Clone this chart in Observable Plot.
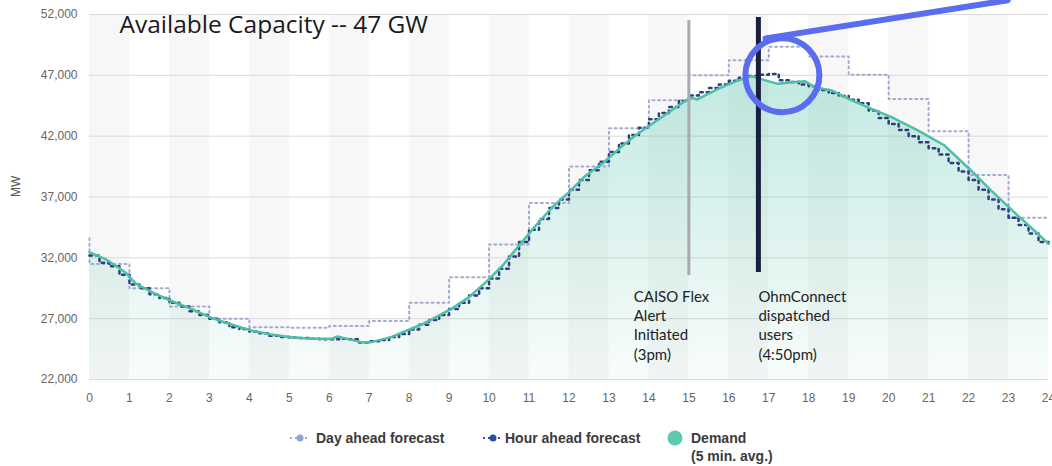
<!DOCTYPE html>
<html>
<head>
<meta charset="utf-8">
<script src="https://cdn.jsdelivr.net/npm/d3@7"></script>
<script src="https://cdn.jsdelivr.net/npm/@observablehq/plot@0.6"></script>
<style>
  body { margin: 0; background: #fff; }
  #wrap { position: relative; width: 1052px; height: 466px; overflow: hidden; }
  #chart svg { display: block; }
  .leg { position: absolute; font-family: Arial, "Liberation Sans", sans-serif; font-weight: bold; font-size: 14px; color: #3a3a3a; line-height: 18px; }
  .mk { position: absolute; }
</style>
</head>
<body>
<div id="wrap">
  <div id="chart"></div>
  <svg class="mk" style="left:289px;top:431px" width="22" height="14">
    <line x1="1" y1="7" x2="21" y2="7" stroke="#9ba9d6" stroke-width="2" stroke-dasharray="2 3"/>
    <circle cx="11" cy="7" r="3.5" fill="#8ea3d6"/>
  </svg>
  <div class="leg" style="left:316px;top:429px">Day ahead forecast</div>
  <svg class="mk" style="left:482px;top:431px" width="22" height="14">
    <line x1="1" y1="7" x2="21" y2="7" stroke="#2c4f9e" stroke-width="2" stroke-dasharray="2 3"/>
    <circle cx="11" cy="7" r="3.5" fill="#2c4f9e"/>
  </svg>
  <div class="leg" style="left:505px;top:429px">Hour ahead forecast</div>
  <svg class="mk" style="left:667px;top:430px" width="16" height="16">
    <circle cx="8" cy="8" r="7.5" fill="#5cc9b0"/>
  </svg>
  <div class="leg" style="left:691px;top:429px">Demand<br>(5 min. avg.)</div>
</div>
<script>
// ---- data ----
const xTicks = [0,1,2,3,4,5,6,7,8,9,10,11,12,13,14,15,16,17,18,19,20,21,22,23,24];
const yTicks = [22000, 27000, 32000, 37000, 42000, 47000, 52000];
const bandStarts = [0,2,4,6,8,10,12,14,16,18,20,22];

const dayAheadHour = [0,0,1,2,3,4,5,6,7,8,9,10,11,12,13,14,15,16,17,18,19,20,21,22,23,24];
const dayAheadMW = [33600,31500,29500,28000,27000,26300,26250,26400,26800,28300,30400,33100,36500,39500,42650,44950,47000,48250,49350,48550,47050,45050,42400,38800,35300,35300];

const hourAheadHour = [0,0.25,0.5,0.75,1,1.25,1.5,1.75,2,2.25,2.5,2.75,3,3.25,3.5,3.75,4,4.25,4.5,4.75,5,5.25,5.5,5.75,6,6.25,6.5,6.75,7,7.25,7.5,7.75,8,8.25,8.5,8.75,9,9.25,9.5,9.75,10,10.25,10.5,10.75,11,11.25,11.5,11.75,12,12.25,12.5,12.75,13,13.25,13.5,13.75,14,14.25,14.5,14.75,15,15.25,15.5,15.75,16,16.25,16.5,16.75,17,17.25,17.5,17.75,18,18.25,18.5,18.75,19,19.25,19.5,19.75,20,20.25,20.5,20.75,21,21.25,21.5,21.75,22,22.25,22.5,22.75,23,23.25,23.5,23.75,24];
const hourAheadMW = [32200,31600,31300,30600,29800,29500,29000,28700,28300,28000,27600,27300,27000,26700,26300,26150,25950,25800,25600,25500,25450,25420,25350,25300,25300,25350,25300,25050,25150,25250,25500,25750,26100,26500,26900,27300,27800,28300,28900,29500,30300,31100,32100,33300,34300,35200,36100,36800,37600,38400,39200,39900,40700,41400,42100,42700,43400,43900,44400,44900,45350,45600,45950,46250,46550,46800,46950,47050,47100,46600,46450,46250,46100,45800,45550,45300,45000,44700,44100,43500,43000,42500,42000,41500,41000,40500,39800,39100,38400,37600,36800,36000,35300,34700,34000,33300,32900];

const demandHour = [0,0.4,0.9,1.15,1.55,2.05,2.55,3.05,3.55,4.05,4.55,5.05,5.55,6.05,6.2,6.5,6.8,7.05,7.55,8.05,8.3,8.67,9.08,9.5,9.92,10.34,10.75,11.17,11.58,12,12.42,12.83,13.25,13.66,14.08,14.5,14.92,15.1,15.2,15.74,16.24,16.57,16.87,17.23,17.57,17.9,18.15,18.57,19,19.57,20.07,20.73,21.4,22.06,22.56,23.14,23.73,24];
const demandMW = [32450,31900,30800,29900,29200,28450,27800,27070,26520,26030,25700,25480,25340,25340,25530,25300,25070,25070,25480,26170,26500,27120,27850,28770,30000,31370,33000,34660,36160,37400,38770,39730,40960,42060,43020,43970,44930,45150,45000,45900,46580,46930,46630,46300,46440,46520,46030,45760,45070,44250,43560,42470,41230,39180,37540,35750,33980,33150];

// annotations (data units)
const capacityText = "Available Capacity -- 47 GW";
const capacityPos = {x: 0.75, y: 51150};
const eventHours = [15, 16.74];
const eventTop = [51500, 51750];
const eventBottom = [30550, 30800];
const eventColors = ["#a9a9b1", "#19203f"];
const eventWidths = [3, 5];
const eventLabels = ["CAISO Flex\nAlert\nInitiated\n(3pm)", "OhmConnect\ndispatched\nusers\n(4:50pm)"];
const eventLabelX = [13.62, 16.74];
const eventLabelY = 29450;
const circleCenter = {x: 17.34, y: 47000};
const pointerHour = [16.92, 22.98];
const pointerMW = [50040, 53170];

// ---- tables ----
const dayAhead = dayAheadHour.map((h, i) => ({h, v: dayAheadMW[i]}));
const hourAhead = hourAheadHour.map((h, i) => ({h, v: hourAheadMW[i]}));
const demand = demandHour.map((h, i) => ({h, v: demandMW[i]}));
const events = eventHours.map((h, i) => ({h, top: eventTop[i], bottom: eventBottom[i], c: eventColors[i], w: eventWidths[i], label: eventLabels[i], lx: eventLabelX[i]}));
const pointer = pointerHour.map((h, i) => ({h, v: pointerMW[i]}));

const gradient = () => {
  const defs = d3.create("svg:defs");
  const g = defs.append("linearGradient").attr("id", "demandGrad")
    .attr("x1", 0).attr("x2", 0).attr("y1", 0).attr("y2", 1);
  g.append("stop").attr("offset", "0%").attr("stop-color", "#57c4ad").attr("stop-opacity", 0.36);
  g.append("stop").attr("offset", "100%").attr("stop-color", "#57c4ad").attr("stop-opacity", 0.04);
  return defs.node();
};

const chart = Plot.plot({
  width: 1052,
  height: 410,
  marginLeft: 89,
  marginRight: 4,
  marginTop: 14,
  marginBottom: 31,
  style: {fontFamily: "Arial, 'Liberation Sans', sans-serif", fontSize: "12px", color: "#666", background: "#fff", overflow: "visible"},
  x: {domain: [0, 24], ticks: xTicks, tickSize: 0, tickPadding: 14, label: null},
  y: {domain: [22000, 52000], ticks: yTicks, tickFormat: d3.format(","), tickSize: 0, tickPadding: 12, label: null},
  marks: [
    gradient,
    Plot.rect(bandStarts, {x1: d => d, x2: d => d + 1, y1: 22000, y2: 52000, fill: "#f7f7f7"}),
    Plot.ruleY(yTicks, {stroke: "#dadada", strokeWidth: 1}),
    Plot.areaY(demand, {x: "h", y1: 22000, y2: "v", fill: "url(#demandGrad)"}),
    Plot.line(dayAhead, {x: "h", y: "v", curve: "step-after", stroke: "#a3acd0", strokeWidth: 2, strokeDasharray: "2 3.5"}),
    Plot.line(hourAhead, {x: "h", y: "v", curve: "step-after", stroke: "#2e3d7c", strokeWidth: 2.5, strokeDasharray: "2.5 4"}),
    Plot.line(demand, {x: "h", y: "v", stroke: "#4cbfa6", strokeWidth: 2.5}),
    Plot.ruleX(events, {x: "h", y1: "bottom", y2: "top", stroke: "c", strokeWidth: "w"}),
    Plot.text(events, {x: "lx", y: eventLabelY, text: "label", textAnchor: "start", lineAnchor: "top", lineHeight: 1.27, fontSize: 15, fontFamily: "Lato, 'Noto Sans', sans-serif", fill: "#222"}),
    Plot.text([capacityText], {x: capacityPos.x, y: capacityPos.y, text: d => d, textAnchor: "start", fontSize: 24.5, fontFamily: "'Open Sans', Lato, sans-serif", fill: "#1a1a1a"}),
    Plot.text(["MW"], {frameAnchor: "left", dx: -73, rotate: -90, fontSize: 12, fill: "#555"}),
    Plot.dot([circleCenter], {x: "x", y: "y", r: 37, stroke: "#5a6cf0", strokeWidth: 6, fill: "none"}),
    Plot.line(pointer, {x: "h", y: "v", stroke: "#5a6cf0", strokeWidth: 6})
  ]
});
document.getElementById("chart").appendChild(chart);
</script>
</body>
</html>
